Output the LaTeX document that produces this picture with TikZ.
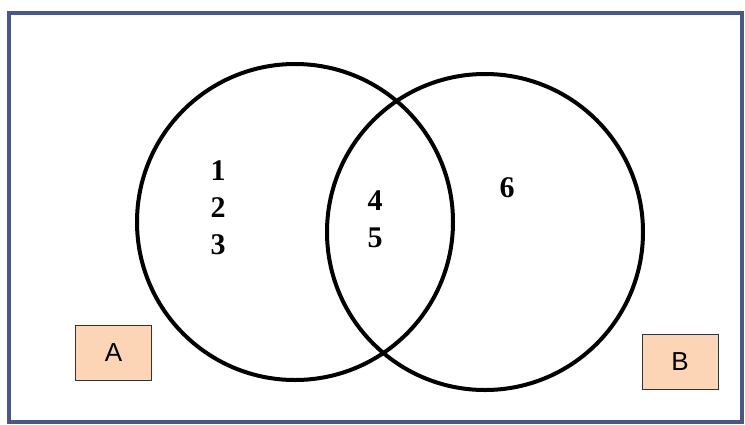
\documentclass[tikz,border=0pt]{standalone}
\usepackage{fontspec}
\setmainfont{Liberation Serif}
\setsansfont{Liberation Sans}
\usepackage{xcolor}
\usetikzlibrary{positioning}
\definecolor{frameblue}{RGB}{72,86,140}
\definecolor{peach}{RGB}{251,213,181}

\begin{document}
\begin{tikzpicture}[
  x=1pt, y=-1pt,
  set/.style={draw, circle, line width=4pt, minimum size=316pt, inner sep=0pt},
  tag/.style={draw=black!80, fill=peach, line width=1pt, minimum width=76pt, minimum height=55pt, font=\sffamily\fontsize{26}{30}\selectfont},
  elem/.style={font=\bfseries\fontsize{30}{37}\selectfont, align=center, inner sep=0pt}
]
\useasboundingbox (0,0) rectangle (745,424);
\draw[frameblue, line width=4pt] (9,13) rectangle (742,422);

\node[set] (setA) at (295,222) {};
\node[set] (setB) at (485,232) {};

\node[tag] (tagA) at (113.5,353) {A};
\node[tag] (tagB) at (680,361.5) {B};

\node[elem] (onlyA) at (218,208) {1\\2\\3};
\node[elem] (both) at (375,219) {4\\5};
\node[elem] (onlyB) at (507,188) {6};
\end{tikzpicture}
\end{document}
